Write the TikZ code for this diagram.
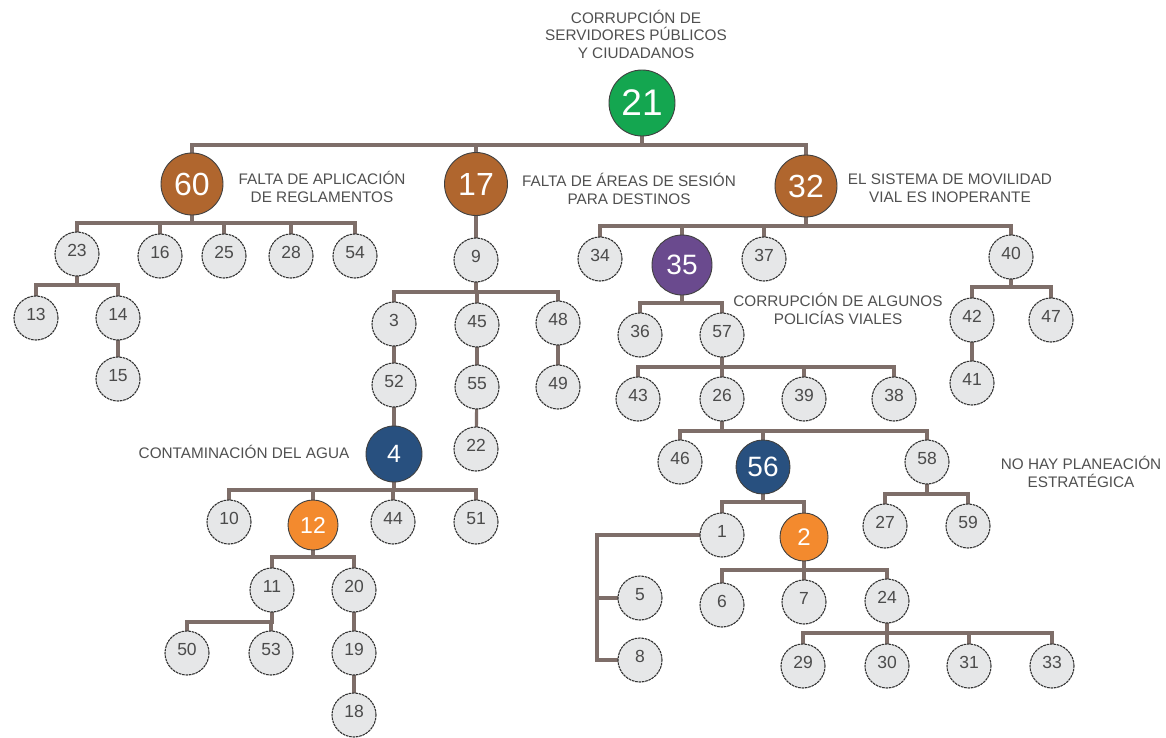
\documentclass[tikz,border=0pt]{standalone}
\usepackage{fontspec}
\setmainfont{Liberation Sans}
\usetikzlibrary{backgrounds,calc}
\definecolor{connc}{RGB}{126,110,105}
\definecolor{smfill}{RGB}{230,231,232}
\definecolor{circd}{RGB}{50,50,50}
\definecolor{numc}{RGB}{75,75,75}
\definecolor{lblc}{RGB}{80,80,80}
\definecolor{cgreen}{RGB}{20,166,80}
\definecolor{cbrown}{RGB}{176,102,46}
\definecolor{cpurple}{RGB}{106,74,142}
\definecolor{cnavy}{RGB}{40,80,127}
\definecolor{corange}{RGB}{243,138,46}
\tikzset{
  conn/.style={line width=3.2pt, draw=connc},
  sm/.style={circle, draw=circd, line width=1.1pt, dash pattern=on 2.6pt off 0.8pt,
    fill=smfill, minimum size=44pt, inner sep=0pt, text=numc,
    font=\fontsize{17.5}{17.5}\selectfont, text height=13pt, text depth=9pt},
  bigc/.style n args={3}{circle, draw=black!75, line width=0.9pt, inner sep=0pt,
    text=white, fill=#1, minimum size=#2, font=\fontsize{#3}{#3}\selectfont},
  lbl/.style={align=center, text=lblc, font=\fontsize{15.3}{17.5}\selectfont, inner sep=0pt}
}
\newcommand\mykids[3]{\foreach \c in {#3}{\draw[conn] (#1.center) -- (#1.center |- 0,#2) -| (\c.center);}}
\begin{document}
\begin{tikzpicture}[x=1pt,y=-1pt]
\begin{scope}[on background layer]
\fill[white] (0,0) rectangle (1166,738);
\end{scope}
\useasboundingbox (0,0) rectangle (1166,738);
% labels
\node[lbl] (t21) at (636,34) {CORRUPCIÓN DE\\SERVIDORES PÚBLICOS\\Y CIUDADANOS};
\node[lbl] (t60) at (322,187) {FALTA DE APLICACIÓN\\DE REGLAMENTOS};
\node[lbl] (t17) at (629,189) {FALTA DE ÁREAS DE SESIÓN\\PARA DESTINOS};
\node[lbl] (t32) at (950,188) {EL SISTEMA DE MOVILIDAD\\VIAL ES INOPERANTE};
\node[lbl] (t35) at (838,309) {CORRUPCIÓN DE ALGUNOS\\POLICÍAS VIALES};
\node[lbl] (t4) at (244,452) {CONTAMINACIÓN DEL AGUA};
\node[lbl] (t58) at (1081,472) {NO HAY PLANEACIÓN\\ESTRATÉGICA};
% big nodes
\node[bigc={cgreen}{66pt}{37}] (n21) at (642,103) {21};
\node[bigc={cbrown}{62pt}{32}] (n60) at (192,184) {60};
\node[bigc={cbrown}{63pt}{32}] (n17) at (476,184) {17};
\node[bigc={cbrown}{62pt}{32}] (n32) at (806,186) {32};
\node[bigc={cpurple}{60pt}{28}] (n35) at (682,265) {35};
\node[bigc={cnavy}{56pt}{25}] (n4) at (394,454) {4};
\node[bigc={cnavy}{54pt}{28}] (n56) at (763,467) {56};
\node[bigc={corange}{50pt}{23}] (n12) at (313,525) {12};
\node[bigc={corange}{48pt}{24}] (n2) at (804,537) {2};
% small nodes
\node[sm] (n23) at (77,254) {23};
\node[sm] (n16) at (160,256) {16};
\node[sm] (n25) at (224,256) {25};
\node[sm] (n28) at (291,256) {28};
\node[sm] (n54) at (355,256) {54};
\node[sm] (n13) at (36,318) {13};
\node[sm] (n14) at (118,318) {14};
\node[sm] (n15) at (118,379) {15};
\node[sm] (n9) at (476,260) {9};
\node[sm] (n3) at (394,324) {3};
\node[sm] (n45) at (477,325) {45};
\node[sm] (n48) at (558,323) {48};
\node[sm] (n52) at (394,385) {52};
\node[sm] (n55) at (477,387) {55};
\node[sm] (n49) at (558,387) {49};
\node[sm] (n22) at (476,449) {22};
\node[sm] (n10) at (229,522) {10};
\node[sm] (n44) at (393,522) {44};
\node[sm] (n51) at (476,522) {51};
\node[sm] (n11) at (272,590) {11};
\node[sm] (n20) at (354,590) {20};
\node[sm] (n50) at (187,653) {50};
\node[sm] (n53) at (271,653) {53};
\node[sm] (n19) at (354,653) {19};
\node[sm] (n18) at (354,715) {18};
\node[sm] (n34) at (600,259) {34};
\node[sm] (n37) at (764,259) {37};
\node[sm] (n40) at (1011,257) {40};
\node[sm] (n42) at (972,320) {42};
\node[sm] (n47) at (1051,320) {47};
\node[sm] (n41) at (972,383) {41};
\node[sm] (n36) at (640,335) {36};
\node[sm] (n57) at (722,335) {57};
\node[sm] (n43) at (638,399) {43};
\node[sm] (n26) at (722,399) {26};
\node[sm] (n39) at (804,399) {39};
\node[sm] (n38) at (894,399) {38};
\node[sm] (n46) at (680,462) {46};
\node[sm] (n58) at (927,462) {58};
\node[sm] (n1) at (722,535) {1};
\node[sm] (n27) at (885,526) {27};
\node[sm] (n59) at (968,526) {59};
\node[sm] (n5) at (640,598) {5};
\node[sm] (n8) at (640,660) {8};
\node[sm] (n6) at (722,605) {6};
\node[sm] (n7) at (804,602) {7};
\node[sm] (n24) at (887,601) {24};
\node[sm] (n29) at (803,666) {29};
\node[sm] (n30) at (887,666) {30};
\node[sm] (n31) at (969,666) {31};
\node[sm] (n33) at (1052,666) {33};
% connectors
\begin{scope}[on background layer]
\mykids{n21}{145}{n60,n17,n32}
\mykids{n60}{223}{n23,n16,n25,n28,n54}
\mykids{n23}{285}{n13,n14}
\draw[conn] (n14.center) -- (n15.center);
\draw[conn] (n17.center) -- (n9.center);
\mykids{n9}{292}{n3,n45,n48}
\draw[conn] (n3.center) -- (n52.center);
\draw[conn] (n52.center) -- (n4.center);
\draw[conn] (n45.center) -- (n55.center);
\draw[conn] (n55.center) -- (n22.center);
\draw[conn] (n48.center) -- (n49.center);
\mykids{n4}{490}{n10,n12,n44,n51}
\mykids{n12}{557}{n11,n20}
\mykids{n11}{622}{n50,n53}
\draw[conn] (n20.center) -- (n19.center);
\draw[conn] (n19.center) -- (n18.center);
\mykids{n32}{226}{n34,n35,n37,n40}
\mykids{n40}{287}{n42,n47}
\draw[conn] (n42.center) -- (n41.center);
\mykids{n35}{303}{n36,n57}
\mykids{n57}{367}{n43,n26,n39,n38}
\mykids{n26}{431}{n46,n56,n58}
\mykids{n56}{502}{n1,n2}
\mykids{n58}{494}{n27,n59}
\mykids{n2}{570}{n6,n7,n24}
\mykids{n24}{633}{n29,n30,n31,n33}
\draw[conn] (n1.center) -| ($(n8.center)+(-43,0)$) -- (n8.center);
\draw[conn] (n5.center) -- ++(-43,0);
\end{scope}
\end{tikzpicture}
\end{document}
